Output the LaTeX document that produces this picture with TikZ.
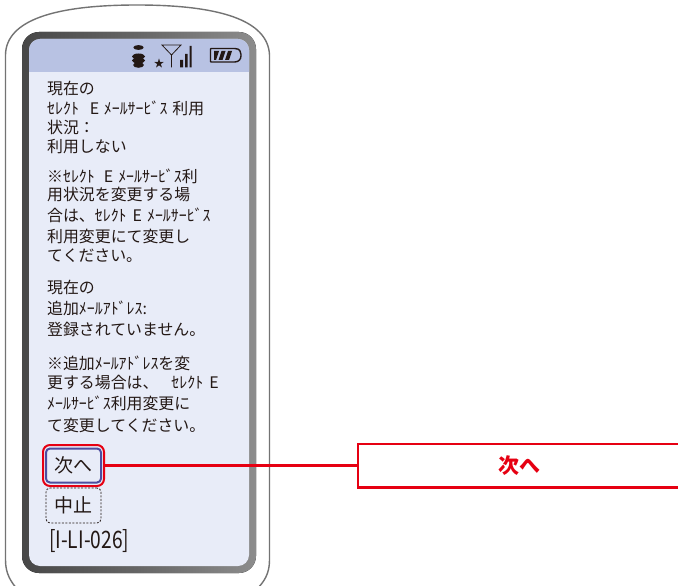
\documentclass[tikz,border=0pt]{standalone}
\usepackage{fontspec}
\setmainfont{Noto Sans CJK JP}
\usetikzlibrary{calc}
\definecolor{hdr}{HTML}{B8C2E3}
\definecolor{scr}{HTML}{E8ECF8}
\definecolor{redl}{HTML}{E60012}
\definecolor{bluel}{HTML}{4D4D9F}
\definecolor{ink}{HTML}{231815}
\newcommand{\gp}[1]{\hspace{#1pt}}
\tikzset{
  line/.style={anchor=west,inner sep=0pt,text=ink,yshift=-1pt,font=\fontsize{15.9}{16}\selectfont},
  lab/.style={anchor=center,inner sep=0pt,text=ink,font=\fontsize{19}{20}\selectfont},
}
\begin{document}
\begin{tikzpicture}[x=1pt,y=-1pt]
\useasboundingbox (0,0) rectangle (678,586);
\fill[white] (0,0) rectangle (678,586);
% phone body
\draw[draw=black!55,line width=1.4pt,fill=white]
  (5.5,55) .. controls (6,20) and (55,5) .. (137,5)
  .. controls (219,5) and (268,20) .. (269.5,55)
  -- (269.5,560) .. controls (269.5,574) and (264,582) .. (256,590)
  -- (18,590) .. controls (11,582) and (5.5,574) .. (5.5,560) -- cycle;
% bezel
\fill[left color=black!72,right color=black!45,middle color=black!60,rounded corners=17pt]
  (22,32) rectangle (256,573);
% screen
\fill[scr,rounded corners=11pt] (29,39) rectangle (249,566);
\begin{scope}
\clip (29,39) rectangle (249,72);
\fill[hdr,rounded corners=11pt] (29,39) rectangle (249,90);
\end{scope}
% status icons
\fill[ink] (138.5,47.5) ellipse (5.2 and 2.4);
\fill[ink] (138.5,56.5) ellipse (6.5 and 3);
\fill[ink] (138.5,60.5) ellipse (6.5 and 3);
\fill[ink] (138.5,65) ellipse (5.4 and 2.8);
\node[inner sep=0pt,text=ink,font=\fontsize{10.5}{11}\selectfont] (star) at (159,64) {★};
\draw[ink,line width=.8pt] (162,45) -- (181,45) -- (171.5,55) -- cycle (171.5,55) -- (171.5,67.5);
\fill[ink] (180,60) rectangle (183,67.5) (185,54) rectangle (187.5,67.5) (189.5,46) rectangle (191.5,67.5);
\draw[ink,line width=1.4pt,rounded corners=.6pt] (210.5,48.5) -- (234,48.5) .. controls (240,48.5) and (241,52) .. (241,55)
  .. controls (241,59) and (239,62) .. (234,62) -- (210.5,62) -- cycle;
\fill[ink] (214,51) -- (219,51) -- (216,60) -- (214,60) -- cycle
  (221.5,51) -- (225.5,51) -- (222.5,60) -- (218.5,60) -- cycle
  (228,51) -- (232,51) -- (229,60) -- (225,60) -- cycle;
% text
\node[line] (l1) at (47,88) {現在の};
\node[line] (l2) at (47,107) {ｾﾚｸﾄ\gp{11}E\gp{4.5}ﾒｰﾙｻｰﾋﾞｽ\gp{5}利用};
\node[line] (l3) at (47,126) {状況：};
\node[line] (l4) at (47,146) {利用しない};
\node[line] (l5) at (47,175) {※ｾﾚｸﾄ\gp{9}E\gp{5}ﾒｰﾙｻｰﾋﾞｽ利};
\node[line] (l6) at (47,193) {用状況を変更する場};
\node[line] (l7) at (47,214) {合は、ｾﾚｸﾄ\gp{6}E\gp{5}ﾒｰﾙｻｰﾋﾞｽ};
\node[line] (l8) at (47,235.5) {利用変更にて変更し};
\node[line] (l9) at (47,255) {てください。};
\node[line] (l10) at (47,287) {現在の};
\node[line] (l11) at (47,307.5) {追加ﾒｰﾙｱﾄﾞﾚｽ:};
\node[line] (l12) at (47,328) {登録されていません。};
\node[line] (l13) at (47,362) {※追加ﾒｰﾙｱﾄﾞﾚｽを変};
\node[line] (l14) at (47,382) {更する場合は、\gp{13}ｾﾚｸﾄ\gp{6}E};
\node[line] (l15) at (47,402.5) {ﾒｰﾙｻｰﾋﾞｽ利用変更に};
\node[line] (l16) at (47,424) {て変更してください。};
% buttons
\node[draw=bluel,line width=2pt,fill=scr,rounded corners=4pt,minimum width=55pt,minimum height=34pt,inner sep=0pt,lab] (next) at (73.5,465.5) {次へ};
\node[draw=redl,line width=2pt,rounded corners=7pt,minimum width=61pt,minimum height=41pt,inner sep=0pt] (nextframe) at (73.5,465.5) {};
\node[draw=ink,dash pattern=on 2pt off 1.5pt,line width=.8pt,rounded corners=4pt,minimum width=55pt,minimum height=35pt,inner sep=0pt,lab] (stop) at (73.5,505.5) {中止};
\node[inner sep=0pt,text=ink,anchor=west] (code) at (49,541) {\scalebox{.8}[1]{\fontsize{24}{25}\selectfont [I-LI-026]}};
% callout
\node[minimum width=322pt,minimum height=43pt,inner sep=0pt,anchor=west] (box) at (358,465.5) {};
\node[inner sep=0pt,text=redl,font=\fontsize{21}{22}\selectfont\bfseries] (boxtext) at (519,465.5) {次へ};
\draw[redl,line width=2.6pt] (box.north east) -- (box.north west) -- (box.south west) -- (box.south east);
\draw[redl,line width=2.6pt] (nextframe.east) -- (box.west);
\end{tikzpicture}
\end{document}
